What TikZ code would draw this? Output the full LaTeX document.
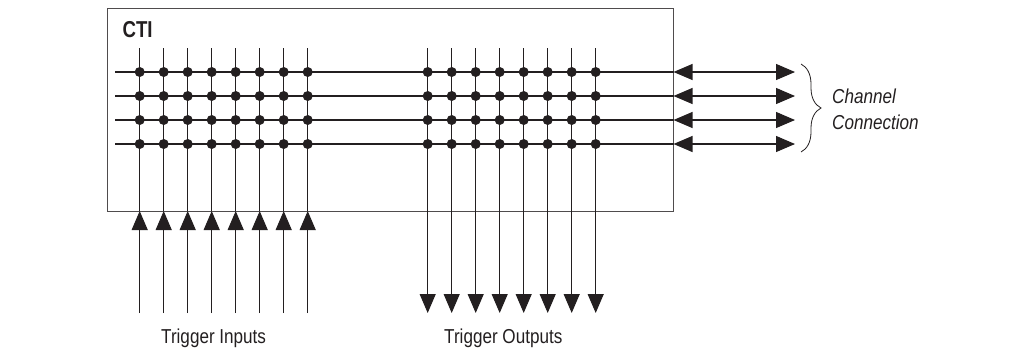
\documentclass[tikz,border=0pt]{standalone}
\usepackage{fontspec}
\setmainfont{Liberation Sans}
\usetikzlibrary{arrows.meta,decorations.pathreplacing}
\definecolor{ink}{HTML}{231F20}
\tikzset{
  wire/.style={draw=ink,line width=1.1pt},
  box/.style={draw=ink!80,line width=1.3pt},
  tipped/.style={wire,-{Triangle[length=19pt,width=16pt,fill=ink]}},
  dtipped/.style={wire,{Triangle[length=19pt,width=16pt,fill=ink]}-{Triangle[length=19pt,width=16pt,fill=ink]}},
  jdot/.style={circle,fill=ink,inner sep=0pt,minimum size=10pt},
  label/.style={inner sep=0pt,anchor=base west,font=\fontsize{18}{20}\selectfont,xscale=.95,yscale=1.12,text=ink},
  ilabel/.style={label,font=\fontsize{18}{20}\selectfont\itshape}
}
\begin{document}
\begin{tikzpicture}[x=1pt,y=-1pt]
\useasboundingbox (0,0) rectangle (1016,362);
\node[box,draw,minimum width=566pt,minimum height=203pt,anchor=north west,inner sep=0pt] (cti) at (107,8) {};
\node[inner sep=0pt,anchor=base west,font=\fontsize{23}{25}\selectfont\bfseries,xscale=.81,text=ink] (title) at (122.5,37) {CTI};
% horizontal channels
\foreach \r/\y in {1/72,2/96,3/120,4/144}{
  \coordinate (hs\r) at (115,\y);
  \coordinate (he\r) at (673.5,\y);
  \coordinate (as\r) at (673.5,\y);
  \coordinate (ae\r) at (795,\y);
  \draw[wire] (hs\r) -- (he\r);
  \draw[dtipped] (as\r) -- (ae\r);
}
% trigger inputs
\foreach \c/\x in {1/139.7,2/163.7,3/187.7,4/211.7,5/235.7,6/259.7,7/283.7,8/307.7}{
  \coordinate (it\c) at (\x,48);
  \coordinate (ie\c) at (\x,211);
  \coordinate (ib\c) at (\x,313);
  \draw[wire] (it\c) -- (ie\c);
  \draw[tipped] (ib\c) -- (ie\c);
  \foreach \r/\y in {1/72,2/96,3/120,4/144}
    \node[jdot] (id\c\r) at (\x,\y) {};
}
% trigger outputs
\foreach \c/\x in {1/427.7,2/451.7,3/475.7,4/499.7,5/523.7,6/547.7,7/571.7,8/595.7}{
  \coordinate (ot\c) at (\x,48);
  \coordinate (ob\c) at (\x,313);
  \draw[tipped] (ot\c) -- (ob\c);
  \foreach \r/\y in {1/72,2/96,3/120,4/144}
    \node[jdot] (od\c\r) at (\x,\y) {};
}
% brace
\coordinate (bt) at (801,64);
\coordinate (bb) at (801,152);
\draw[draw=ink,line width=.8pt,decorate,decoration={brace,amplitude=20pt,aspect=.5}] (bt) -- (bb);
\node[ilabel] (chan) at (832,103) {Channel};
\node[ilabel] (conn) at (832,129) {Connection};
\node[label] (tin) at (161,343) {Trigger Inputs};
\node[label] (tout) at (444,343) {Trigger Outputs};
\end{tikzpicture}
\end{document}
